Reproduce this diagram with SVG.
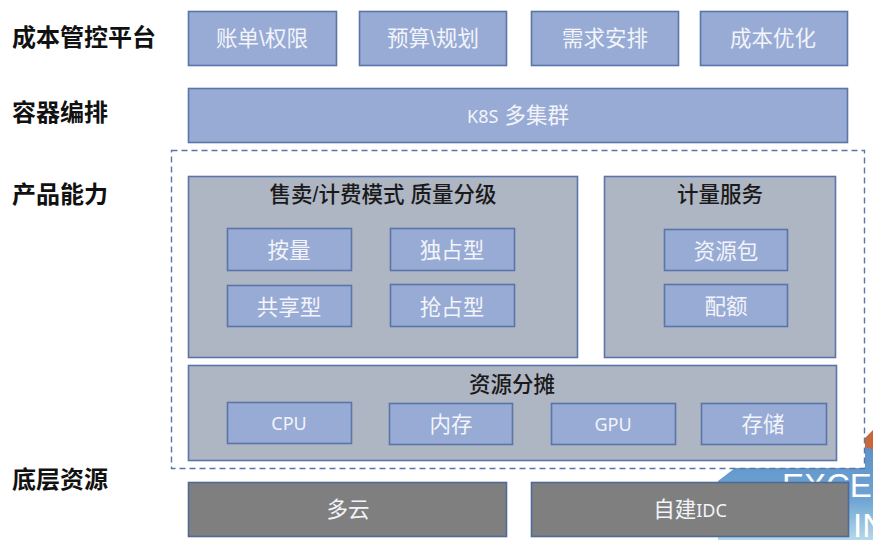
<svg xmlns="http://www.w3.org/2000/svg" width="894" height="547" viewBox="0 0 894 547">
<style>
text{font-family:"Liberation Sans","Noto Sans CJK SC",sans-serif;text-anchor:middle}
.lab{font-size:24px;font-weight:700;fill:#111;text-anchor:start}
.head{font-size:21.500px;font-weight:500;fill:#1a1a1a}
.t{font-size:21.500px;fill:#f2f4fa}
.s{font-size:21.500px;fill:#f2f4fa}
.la{font-family:"Noto Sans",sans-serif;font-size:18px}
.b{fill:#98abd5;stroke:#5a76a8;stroke-width:1.600}
.g{fill:#aeb5c3;stroke:#5a76a8;stroke-width:1.600}
.d{fill:#7f7f7f;stroke:#4f6a96;stroke-width:1.600}
</style>
<defs>
<clipPath id="wm"><rect x="700" y="400" width="173" height="140"/></clipPath>
<linearGradient id="wg" x1="0" y1="0" x2="0" y2="1"><stop offset="0" stop-color="#5b8fc7"/><stop offset="0.6" stop-color="#6fa5d3"/><stop offset="1" stop-color="#b5d8ea"/></linearGradient>
</defs>
<rect width="894" height="547" fill="#fff"/>
<g id="watermark" clip-path="url(#wm)">
<path d="M718 481L735 468H865V445L880 440V540H718Z" fill="url(#wg)"/>
<path d="M865 438L875 428V450L865 447Z" fill="#c9673c"/>
<text x="782" y="497" style="font-size:33px;text-anchor:start;fill:#fff">EXCEL</text>
<text x="853" y="537" style="font-size:33px;text-anchor:start;fill:#fff">IN</text>
</g>
<g id="labels">
<text class="lab" x="12" y="46">成本管控平台</text>
<text class="lab" x="12" y="121">容器编排</text>
<text class="lab" x="12" y="203">产品能力</text>
<text class="lab" x="12" y="488">底层资源</text>
</g>
<g id="connectors"></g>
<g id="product-frame"><rect x="171.500" y="150.500" width="693" height="318" fill="none" stroke="#5a76a8" stroke-width="1.400" stroke-dasharray="6 4"/></g>
<g id="n-bill"><rect class="b" x="188.500" y="11.500" width="148" height="54"/><text class="t" x="262" y="46">账单\权限</text></g>
<g id="n-budget"><rect class="b" x="359.500" y="11.500" width="147" height="54"/><text class="t" x="433" y="46">预算\规划</text></g>
<g id="n-demand"><rect class="b" x="531.500" y="11.500" width="147" height="54"/><text class="t" x="605" y="46">需求安排</text></g>
<g id="n-opt"><rect class="b" x="700.500" y="11.500" width="147" height="54"/><text class="t" x="773" y="46">成本优化</text></g>
<g id="n-k8s"><rect class="b" x="188.500" y="88.500" width="659" height="54"/><text class="t" x="518" y="123"><tspan class="la">K8S</tspan> 多集群</text></g>
<g id="n-sell"><rect class="g" x="188.500" y="176.500" width="389" height="181"/><text class="head" x="383" y="202">售卖/计费模式 质量分级</text></g>
<g id="n-meter"><rect class="g" x="604.500" y="176.500" width="231" height="181"/><text class="head" x="720" y="202">计量服务</text></g>
<g id="n-alloc"><rect class="g" x="188.500" y="365.500" width="648" height="95"/><text class="head" x="512" y="392">资源分摊</text></g>
<g id="n-qty"><rect class="b" x="227.500" y="228.500" width="124" height="42"/><text class="s" x="289" y="258">按量</text></g>
<g id="n-excl"><rect class="b" x="390.500" y="228.500" width="124" height="42"/><text class="s" x="452" y="258">独占型</text></g>
<g id="n-share"><rect class="b" x="227.500" y="285.500" width="124" height="41"/><text class="s" x="289" y="315">共享型</text></g>
<g id="n-preempt"><rect class="b" x="390.500" y="284.500" width="124" height="42"/><text class="s" x="452" y="315">抢占型</text></g>
<g id="n-pack"><rect class="b" x="664.500" y="229.500" width="123" height="41"/><text class="s" x="726" y="259">资源包</text></g>
<g id="n-quota"><rect class="b" x="664.500" y="284.500" width="123" height="42"/><text class="s" x="726" y="314">配额</text></g>
<g id="n-cpu"><rect class="b" x="227.500" y="402.500" width="124" height="41"/><text class="s la" x="289" y="430">CPU</text></g>
<g id="n-mem"><rect class="b" x="389.500" y="403.500" width="123" height="41"/><text class="s" x="451" y="432">内存</text></g>
<g id="n-gpu"><rect class="b" x="551.500" y="403.500" width="124" height="41"/><text class="s la" x="613" y="431">GPU</text></g>
<g id="n-store"><rect class="b" x="701.500" y="403.500" width="125" height="41"/><text class="s" x="763" y="432">存储</text></g>
<g id="n-cloud"><rect class="d" x="188.500" y="482.500" width="318" height="54"/><text class="t" x="348" y="517">多云</text></g>
<g id="n-idc"><rect class="d" x="531.500" y="482.500" width="317" height="54"/><text class="t" x="690" y="517">自建<tspan class="la">IDC</tspan></text></g>
</svg>
